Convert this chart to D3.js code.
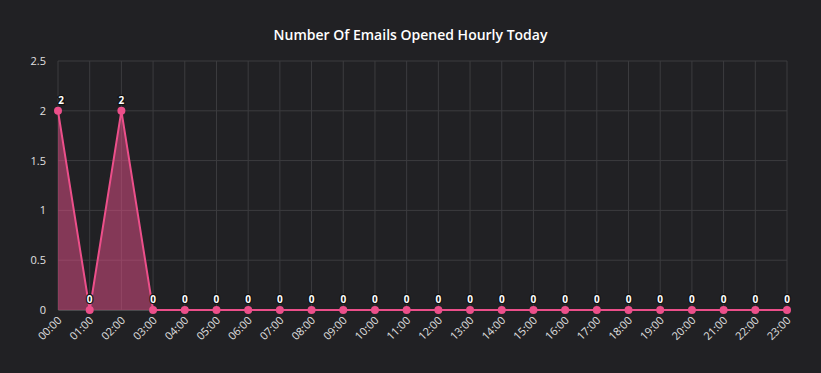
<!DOCTYPE html>
<html>
<head>
<meta charset="utf-8">
<script src="https://cdn.jsdelivr.net/npm/d3@7"></script>
<style>
body{margin:0;background:#212124;}
svg{display:block;font-family:"Open Sans","DejaVu Sans",sans-serif;}
</style>
</head>
<body>
<script>
// hours of the day and opened counts
var hours = ['00:00','01:00','02:00','03:00','04:00','05:00','06:00','07:00','08:00','09:00','10:00','11:00',
             '12:00','13:00','14:00','15:00','16:00','17:00','18:00','19:00','20:00','21:00','22:00','23:00'];
var opened = [2,0,2,0,0,0,0,0,0,0,0,0,0,0,0,0,0,0,0,0,0,0,0,0];
var yTicks = [0,0.5,1,1.5,2,2.5];
var title = 'Number Of Emails Opened Hourly Today';

var width = 821, height = 373;
var margin = {top:61, right:34, bottom:63, left:58};

var svg = d3.select('body').append('svg').attr('width',width).attr('height',height);
svg.append('rect').attr('width',width).attr('height',height).attr('fill','#212124');

var xScale = d3.scalePoint().domain(hours).range([margin.left, width-margin.right]);
var yScale = d3.scaleLinear().domain([0,2.5]).range([height-margin.bottom, margin.top]);

var data = hours.map(function(h,i){return {x:h, y:opened[i]}});

svg.append('text').text(title)
    .attr('x', width/2).attr('y', 40)
    .attr('text-anchor','middle')
    .attr('fill','#ffffff').attr('font-size',14).attr('font-weight',600);

// grid
var grid = svg.append('g');
grid.selectAll('.hline').data(yTicks).enter().append('line')
    .attr('x1',margin.left).attr('x2',width-margin.right)
    .attr('y1',d=>yScale(d)).attr('y2',d=>yScale(d))
    .attr('stroke','#3c3c3f').attr('stroke-width',1);
grid.selectAll('.vline').data(hours).enter().append('line')
    .attr('x1',d=>xScale(d)).attr('x2',d=>xScale(d))
    .attr('y1',margin.top).attr('y2',height-margin.bottom)
    .attr('stroke','#3c3c3f').attr('stroke-width',1);

// y axis
var yAxis = d3.axisLeft(yScale).tickValues(yTicks).tickSize(0).tickPadding(12).tickFormat(d3.format('~g'));
var gy = svg.append('g').attr('transform',`translate(${margin.left},0)`).call(yAxis);
gy.select('.domain').remove();
gy.selectAll('text').attr('fill','#e0e0e0').attr('font-size',11).attr('font-family','"Open Sans",sans-serif');

// x axis
var xAxis = d3.axisBottom(xScale).tickSize(0).tickPadding(0);
var gx = svg.append('g').attr('transform',`translate(0,${height-margin.bottom})`).call(xAxis);
gx.select('.domain').attr('stroke','#4a4a4d');
gx.selectAll('text')
    .attr('fill','#e0e0e0').attr('font-size',11).attr('font-family','"Open Sans",sans-serif')
    .attr('text-anchor','end').attr('dy',0)
    .attr('transform','translate(4,11) rotate(-45)');

// area + line
var area = d3.area().x(d=>xScale(d.x)).y0(yScale(0)).y1(d=>yScale(d.y));
var line = d3.line().x(d=>xScale(d.x)).y(d=>yScale(d.y));
svg.append('path').datum(data).attr('d',area).attr('fill','#e8508a').attr('fill-opacity',0.5);
svg.append('path').datum(data).attr('d',line).attr('fill','none').attr('stroke','#ec4f8a').attr('stroke-width',2);

svg.selectAll('.dot').data(data).enter().append('circle')
    .attr('cx',d=>xScale(d.x)).attr('cy',d=>yScale(d.y)).attr('r',4)
    .attr('fill','#ec4f8a');

// data labels
svg.selectAll('.lbl').data(data).enter().append('text')
    .text(d=>d.y)
    .attr('x',d=>xScale(d.x)+(d.x==='00:00'?3:0)).attr('y',d=>yScale(d.y)-7)
    .attr('text-anchor','middle')
    .attr('font-size',10).attr('font-weight',700)
    .attr('fill','#ffffff').attr('stroke','#111').attr('stroke-width',2.5)
    .attr('paint-order','stroke');
</script>
</body>
</html>
